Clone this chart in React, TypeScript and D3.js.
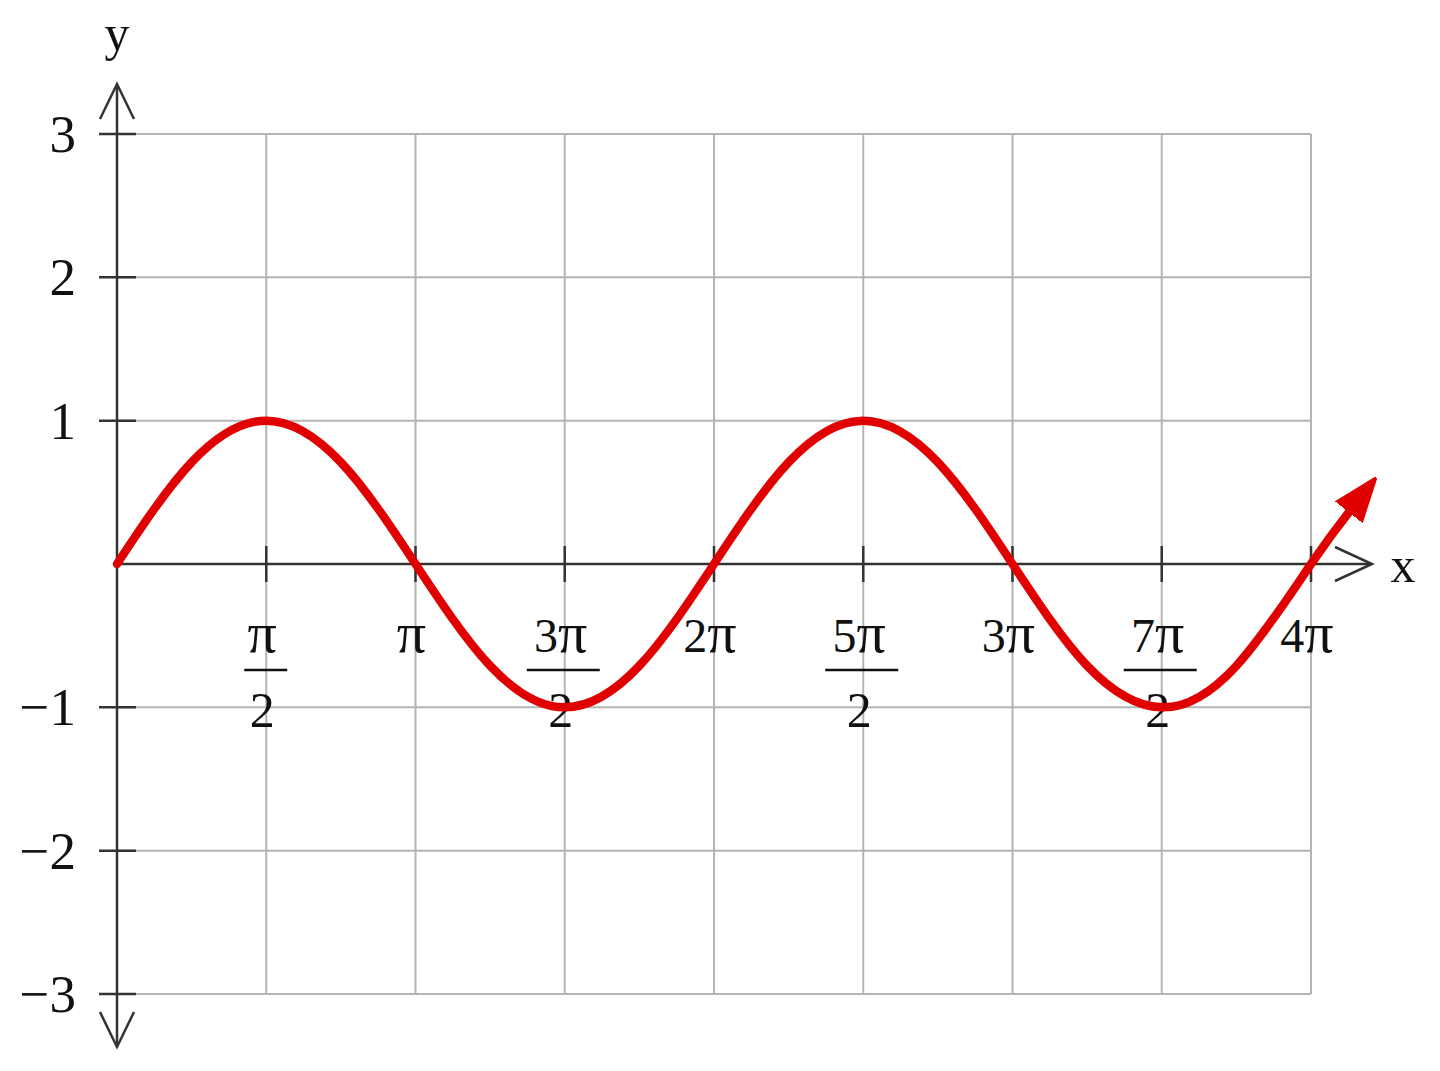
import React from "react";
import * as d3 from "d3";

// Samples of the curve, x in multiples of π/4, y
const sampleX = [0, 1, 2, 3, 4, 5, 6, 7, 8, 9, 10, 11, 12, 13, 14, 15, 16, 16.58];
const sampleY = [0, 0.71, 1, 0.71, 0, -0.71, -1, -0.71, 0, 0.71, 1, 0.71, 0, -0.71, -1, -0.71, 0, 0.41];

// Tick definitions
const xTickUnits = [1, 2, 3, 4, 5, 6, 7, 8]; // multiples of π/2
const xTickLabels = [
  { coef: "", den: "2" },
  { coef: "", den: "" },
  { coef: "3", den: "2" },
  { coef: "2", den: "" },
  { coef: "5", den: "2" },
  { coef: "3", den: "" },
  { coef: "7", den: "2" },
  { coef: "4", den: "" },
];
const yTicks = [3, 2, 1, -1, -2, -3];
const yTickLabels = ["3", "2", "1", "−1", "−2", "−3"];
const gridY = [3, 2, 1, 0, -1, -2, -3];
const gridX = [0, 1, 2, 3, 4, 5, 6, 7, 8];

export default function App() {
  const W = 1440, H = 1071;
  const x = d3.scaleLinear().domain([0, 8]).range([117, 1311]); // units of π/2
  const y = d3.scaleLinear().domain([-3, 3]).range([994, 134]);
  const font = "'Liberation Serif', 'Times New Roman', serif";
  const grid = "#b4b4b4";
  const axis = "#333";
  const red = "#e00000";

  const pts: [number, number][] = sampleX.map((v, i) => [v / 2, sampleY[i]]);
  const line = d3
    .line<[number, number]>()
    .x((d) => x(d[0]))
    .y((d) => y(d[1]))
    .curve(d3.curveNatural);

  const x0 = x(0), y0 = y(0);

  return (
    <svg width={W} height={H} style={{ position: "absolute", left: 0, top: 0, background: "#fff" }}>
      <defs>
        <marker id="redArrow" viewBox="0 0 10 10" refX="2" refY="5" markerWidth="44" markerHeight="44" markerUnits="userSpaceOnUse" orient="auto">
          <path d="M0,1.3 L10,5 L0,8.7 Z" fill={red} stroke={red} strokeWidth={0.6} strokeLinejoin="round" />
        </marker>
      </defs>
      {/* grid */}
      {gridX.map((g) => (
        <line key={"gx" + g} x1={x(g)} x2={x(g)} y1={y(3)} y2={y(-3)} stroke={grid} strokeWidth={2} />
      ))}
      {gridY.map((g) => (
        <line key={"gy" + g} x1={x(0)} x2={x(8)} y1={y(g)} y2={y(g)} stroke={grid} strokeWidth={2} />
      ))}
      {/* axes */}
      <line x1={x0} x2={1370} y1={y0} y2={y0} stroke={axis} strokeWidth={2.5} />
      <line x1={x0} x2={x0} y1={85} y2={1046} stroke={axis} strokeWidth={2.5} />
      <path d={`M1335,${y0 - 17} L1372,${y0} L1335,${y0 + 17}`} fill="none" stroke={axis} strokeWidth={2.5} />
      <path d={`M${x0 - 17},119 L${x0},84 L${x0 + 17},119`} fill="none" stroke={axis} strokeWidth={2.5} />
      <path d={`M${x0 - 17},1012 L${x0},1047 L${x0 + 17},1012`} fill="none" stroke={axis} strokeWidth={2.5} />
      {/* ticks */}
      {yTicks.map((t) => (
        <line key={"yt" + t} x1={x0 - 18} x2={x0 + 19} y1={y(t)} y2={y(t)} stroke={axis} strokeWidth={2.5} />
      ))}
      {xTickUnits.map((t) => (
        <line key={"xt" + t} x1={x(t)} x2={x(t)} y1={y0 - 18} y2={y0 + 18} stroke={axis} strokeWidth={2.5} />
      ))}
      {/* y labels */}
      {yTicks.map((t, i) => (
        <text key={"yl" + t} x={76} y={y(t) + 18} textAnchor="end" fontFamily={font} fontSize={53} fill="#111">
          {yTickLabels[i]}
        </text>
      ))}
      {/* x labels */}
      {xTickUnits.map((t, i) => {
        const lab = xTickLabels[i];
        const cx = x(t);
        return (
          <g key={"xl" + t}>
            <text x={cx - 4} y={652} textAnchor="middle" fontFamily={font} fontSize={48} fill="#111">
              {lab.coef && <tspan>{lab.coef}</tspan>}
              <tspan fontSize={58}>π</tspan>
            </text>
            {lab.den && (
              <>
                <line x1={cx - (lab.coef ? 38 : 22)} x2={cx + (lab.coef ? 35 : 21)} y1={670} y2={670} stroke="#111" strokeWidth={2.5} />
                <text x={cx - 4} y={727} textAnchor="middle" fontFamily={font} fontSize={50} fill="#111">
                  {lab.den}
                </text>
              </>
            )}
          </g>
        );
      })}
      {/* axis names */}
      <text x={117} y={50} textAnchor="middle" fontFamily={font} fontSize={50} fill="#111">y</text>
      <text x={1403} y={582} textAnchor="middle" fontFamily={font} fontSize={50} fill="#111">x</text>
      {/* curve */}
      <path d={line(pts) || ""} fill="none" stroke={red} strokeWidth={8.5} strokeLinecap="round" markerEnd="url(#redArrow)" />
    </svg>
  );
}
